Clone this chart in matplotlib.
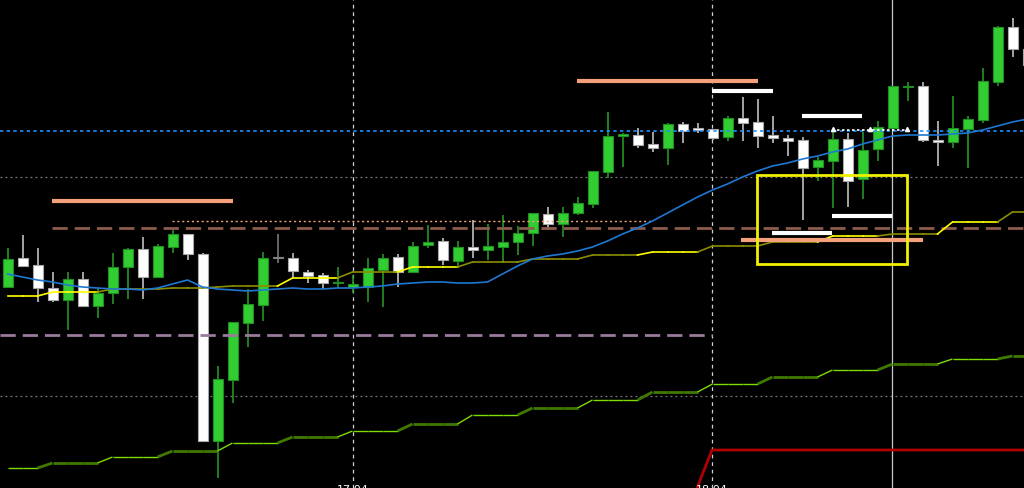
import matplotlib
matplotlib.use("Agg")
from matplotlib import pyplot as plt
from matplotlib.patches import Rectangle
import numpy as np

# candle data (price points), one entry per bar
opens = [201, 230, 223, 200, 188, 209, 182, 195, 221, 239, 211, 241, 254, 234, 47, 108, 165,
         183, 230, 230, 216, 213, 205, 201, 201, 218, 231, 216, 243, 247, 227, 241, 238, 241,
         246, 255, 274, 264, 275, 284, 316, 352, 353, 344, 340, 364, 360, 359, 351, 370, 366,
         353, 350, 348, 321, 327, 349, 309, 339, 360, 401, 402, 348, 346, 359, 368, 406, 461, 439]
highs = [240, 253, 240, 216, 216, 216, 200, 235, 240, 251, 244, 258, 254, 235, 122, 166, 199,
         236, 254, 235, 218, 215, 221, 213, 230, 234, 234, 246, 263, 250, 247, 268, 264, 273,
         262, 275, 281, 281, 291, 317, 376, 355, 360, 356, 365, 366, 365, 359, 372, 391, 389,
         372, 353, 351, 331, 358, 355, 356, 367, 402, 406, 406, 367, 392, 372, 420, 462, 470, 439]
lows = [201, 222, 186, 186, 158, 182, 170, 184, 189, 189, 211, 235, 228, 47, 10, 85, 141,
        167, 225, 211, 205, 199, 200, 195, 186, 181, 201, 215, 240, 223, 220, 230, 228, 226,
        233, 242, 258, 251, 273, 280, 310, 321, 340, 336, 323, 345, 355, 348, 347, 347, 340,
        345, 332, 268, 307, 280, 281, 289, 327, 360, 387, 346, 322, 340, 320, 365, 402, 431, 418]
closes = [229, 222, 200, 188, 209, 182, 195, 221, 239, 211, 242, 254, 234, 47, 109, 166, 184,
          230, 230, 217, 212, 205, 206, 204, 220, 230, 216, 242, 246, 228, 241, 238, 242, 246,
          255, 275, 264, 275, 285, 317, 352, 354, 343, 340, 364, 357, 358, 350, 370, 365, 352,
          350, 347, 320, 328, 349, 307, 338, 361, 402, 402, 348, 346, 360, 369, 407, 461, 439, 423]

# indicator lines, one value per bar
ma_line = [214, 211, 208, 206, 203, 201, 200, 199, 199, 198, 200, 204, 208, 201, 199, 198, 197,
           198, 199, 200, 199, 199, 200, 200, 201, 202, 204, 205, 206, 206, 205, 205, 206, 214,
           222, 229, 232, 234, 237, 241, 247, 254, 260, 267, 275, 283, 291, 298, 304, 311, 317,
           322, 325, 329, 332, 336, 339, 344, 348, 352, 353, 353, 353, 354, 355, 358, 362, 366, 369]
yellow_line = [192, 192, 192, 196, 196, 196, 196, 199, 199, 199, 199, 200, 200, 200, 201, 202, 202,
               202, 202, 210, 210, 210, 210, 216, 216, 216, 216, 221, 221, 221, 221, 226, 226, 226,
               226, 229, 229, 229, 229, 233, 233, 233, 233, 236, 236, 236, 236, 242, 242, 242, 242,
               246, 246, 246, 246, 252, 252, 252, 252, 254, 254, 254, 254, 266, 266, 266, 266, 276, 276]
green_line = [20, 20, 20, 25, 25, 25, 25, 31, 31, 31, 31, 37, 37, 37, 37, 45, 45,
              45, 45, 51, 51, 51, 51, 57, 57, 57, 57, 64, 64, 64, 64, 73, 73, 73,
              73, 80, 80, 80, 80, 88, 88, 88, 88, 96, 96, 96, 96, 104, 104, 104, 104,
              111, 111, 111, 111, 118, 118, 118, 118, 124, 124, 124, 124, 129, 129, 129, 129, 132, 132]

# horizontal levels
level_blue = 357
levels_grey = [311, 92]
level_brown = 260
level_purple = 153
level_salmon_dotted = 267
salmon_segments = [(52, 233, 287), (577, 758, 407), (741, 923, 248)]
white_segments = [(712, 773, 397), (802, 862, 372), (832, 892, 272), (772, 832, 255)]
box = (757, 907, 224, 313)
date_lines = [353, 712]
date_labels = ["17.04", "18.04"]

n = len(opens)
xs = 7.5 + 15 * np.arange(n)

fig = plt.figure(figsize=(10.24, 4.88), dpi=100)
fig.patch.set_facecolor("black")
ax = fig.add_axes([0, 0, 1, 1])
ax.set_facecolor("black")
ax.set_xlim(0, 1024)
ax.set_ylim(0, 488)
ax.axis("off")

# grid-ish dotted levels
for lv in levels_grey:
    ax.axhline(lv, color="#7a7a7a", lw=0.9, ls=(0, (1.5, 2.5)), zorder=1)
for dx in date_lines:
    ax.axvline(dx, color="#d0d0d0", lw=0.9, ls=(0, (3, 3)), zorder=1)
ax.axvline(892, color="#c8c8c8", lw=0.9, zorder=1)

# candles
for i in range(n):
    o, h, l, c = opens[i], highs[i], lows[i], closes[i]
    if c > o:
        face, edge, wick = "#32CD32", "#1f8f1f", "#2aa02a"
    elif c < o:
        face, edge, wick = "#ffffff", "#a8a8a8", "#d0d0d0"
    else:
        face, edge, wick = "#808080", "#808080", "#808080"
    ax.vlines(xs[i], l, h, color=wick, lw=1.1, zorder=2)
    bottom = min(o, c)
    height = max(abs(c - o), 1.5)
    ax.bar(xs[i], height, width=10, bottom=bottom, color=face, edgecolor=edge,
           linewidth=0.8, zorder=2)

# dashed levels
ax.hlines(level_brown, 52, 1024, color="#8c5c4c", lw=2, linestyles=(0, (5.5, 2.5)), zorder=3)
ax.hlines(level_purple, 0, 712, color="#9a7a9a", lw=2, linestyles=(0, (5.5, 2.5)), zorder=3)
ax.hlines(level_salmon_dotted, 172, 651, color="#f4a07a", lw=1, linestyles=(0, (1.5, 2)), zorder=3)
ax.axhline(level_blue, color="#1e90ff", lw=1.2, ls=(0, (2, 2)), zorder=3)

for x0, x1, y in salmon_segments:
    ax.hlines(y, x0, x1, color="#f4a07a", lw=3, zorder=4)
for x0, x1, y in white_segments:
    ax.hlines(y, x0, x1, color="white", lw=3, zorder=4)
ax.hlines(358, 832, 907, color="white", lw=1.2, linestyles=(0, (1.5, 1.5)), zorder=4)
ax.plot([833, 870, 907], [359, 359, 359], "^", color="white", ms=3, zorder=4)

# lower step line, two tones
for i in range(1, n):
    block = (i + 1) // 4
    if block % 2 == 0:
        col, w = "#7fdc00", 1.0
    else:
        col, w = "#3f7a00", 2.0
    ax.plot(xs[i - 1:i + 1], green_line[i - 1:i + 1], color=col, lw=w, zorder=3,
            solid_capstyle="butt")

# yellow step line, two tones
bright_blocks = {0, 1, 5, 7, 11, 14, 16}
for i in range(1, n):
    block = (i + 1) // 4
    col = "#ffff00" if block in bright_blocks else "#8c8c00"
    ax.plot(xs[i - 1:i + 1], yellow_line[i - 1:i + 1], color=col, lw=1.2, zorder=3)

# moving average
ax.plot(xs, ma_line, color="#1e78d2", lw=1.2, zorder=3)

# red line
ax.plot([697, 712, 1024], [0, 38, 38], color="#b00000", lw=2, zorder=3)

# yellow box
ax.add_patch(Rectangle((box[0], box[2]), box[1] - box[0], box[3] - box[2],
                       fill=False, edgecolor="#f0f000", lw=2, zorder=5))

for dx, lab in zip(date_lines, date_labels):
    ax.text(dx, 3, lab, color="white", fontsize=8, ha="center", va="top", zorder=6)

fig.savefig("out.png", dpi=100, facecolor="black")
